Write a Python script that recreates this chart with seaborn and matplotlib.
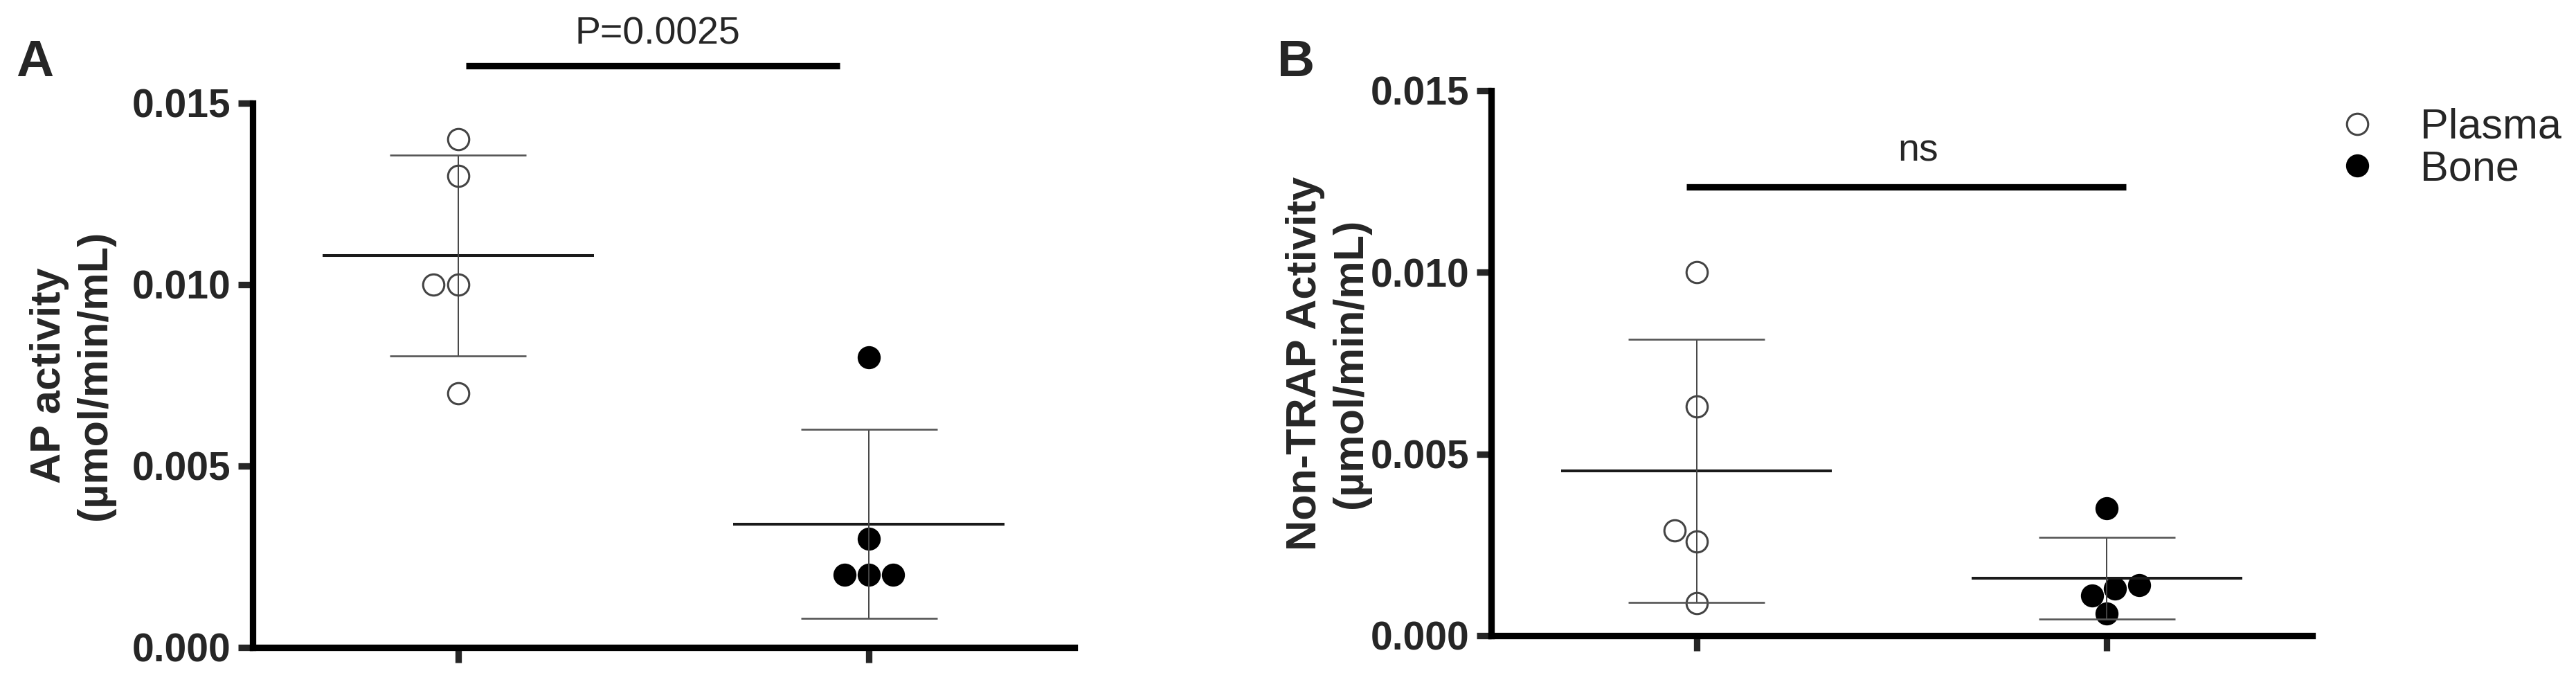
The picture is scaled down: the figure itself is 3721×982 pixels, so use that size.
import numpy as np
import pandas as pd
import matplotlib
matplotlib.use("Agg")
import matplotlib.pyplot as plt
from matplotlib.lines import Line2D
import seaborn as sns

# values
groups = ["Plasma", "Bone"]

ap_plasma = [0.014, 0.013, 0.010, 0.010, 0.007]
ap_bone = [0.008, 0.003, 0.002, 0.002, 0.002]

ntrap_plasma = [0.0100, 0.0063, 0.0029, 0.0026, 0.0009]
ntrap_bone = [0.0035, 0.0013, 0.0011, 0.0014, 0.0006]

y_ticks = [0.000, 0.005, 0.010, 0.015]
y_tick_labels = ["0.000", "0.005", "0.010", "0.015"]

sns.set_style("ticks")
plt.rcParams["font.family"] = ["Liberation Sans", "DejaVu Sans"]

fig = plt.figure(figsize=(37.21, 9.82), dpi=100)
ax_a = fig.add_axes([0.0981, 0.0479, 0.319, 0.8004])
ax_b = fig.add_axes([0.5789, 0.0652, 0.3187, 0.8014])

open_kw = dict(color="white", edgecolor="#444444", linewidth=2.2, size=22)
fill_kw = dict(color="black", linewidth=0, size=24)


def long_df(plasma, bone):
    return pd.DataFrame({
        "group": ["Plasma"] * len(plasma) + ["Bone"] * len(bone),
        "value": plasma + bone,
    })


def draw_panel(ax, plasma, bone, ylabel, label_x):
    df = long_df(plasma, bone)
    ax.set_ylim(0, 0.015)
    ax.set_xlim(-0.5, 1.5)

    sns.swarmplot(data=df[df.group == "Plasma"], x="group", y="value",
                  order=groups, ax=ax, zorder=2, **open_kw)
    sns.swarmplot(data=df[df.group == "Bone"], x="group", y="value",
                  order=groups, ax=ax, zorder=2, **fill_kw)

    # mean +/- SD
    stats = df.groupby("group")["value"].agg(["mean", "std"]).reindex(groups)
    for i, (m, s) in enumerate(zip(stats["mean"], stats["std"])):
        ax.hlines(m, i - 0.33, i + 0.33, color="#1a1a1a", lw=2.9, zorder=3)
        ax.vlines(i, m - s, m + s, color="#444444", lw=1.4, zorder=3)
        ax.hlines([m - s, m + s], i - 0.166, i + 0.166, color="#555555",
                  lw=1.9, zorder=3)

    ax.set_xlim(-0.5, 1.5)
    ax.set_ylim(0, 0.015)
    ax.set_yticks(y_ticks)
    ax.set_yticklabels(y_tick_labels, fontsize=41, fontweight="bold")
    ax.set_xticks([0, 1])
    ax.tick_params(axis="x", labelbottom=False, length=16, width=6.7,
                   direction="out")
    ax.tick_params(axis="y", length=15, width=6.7, pad=8)
    ax.set_xlabel("")
    ax.set_ylabel(ylabel, fontsize=44, fontweight="bold", linespacing=1.2)
    ax.yaxis.set_label_coords(label_x, 0.5)
    for side in ["top", "right"]:
        ax.spines[side].set_visible(False)
    for side in ["left", "bottom"]:
        ax.spines[side].set_linewidth(6.7)
        ax.spines[side].set_color("black")


def sig_bar(ax, x0, x1, y, text, tx, ty):
    ax.plot([x0, x1], [y, y], color="black", lw=6.7, clip_on=False,
            solid_capstyle="butt")
    ax.text(tx, ty, text, ha="center", va="baseline", fontsize=40,
            clip_on=False)


draw_panel(ax_a, ap_plasma, ap_bone, "AP activity\n(\u00b5mol/min/mL)", -0.168)
draw_panel(ax_b, ntrap_plasma, ntrap_bone,
           "Non-TRAP Activity\n(\u00b5mol/min/mL)", -0.147)

sig_bar(ax_a, 0.019, 0.929, 0.01603, "P=0.0025", 0.486, 0.01664)
sig_bar(ax_b, -0.024, 1.046, 0.01235, "ns", 0.54, 0.01306)

fig.text(50 / 3721, 1 - 90 / 982, "A", fontsize=54, fontweight="bold",
         ha="center", va="center")
fig.text(1872 / 3721, 1 - 90 / 982, "B", fontsize=54, fontweight="bold",
         ha="center", va="center")

handles = [
    Line2D([], [], marker="o", ls="", markersize=22, mfc="white",
           mec="#444444", mew=2.2),
    Line2D([], [], marker="o", ls="", markersize=24, mfc="black", mew=0),
]
fig.legend(handles, groups, loc="upper left",
           bbox_to_anchor=(3374 / 3721, 1 - 156 / 982), frameon=False,
           fontsize=44, handlelength=1.0, handletextpad=1.0,
           labelspacing=0.05, borderpad=0, borderaxespad=0)

fig.savefig("out.png", dpi=100)
